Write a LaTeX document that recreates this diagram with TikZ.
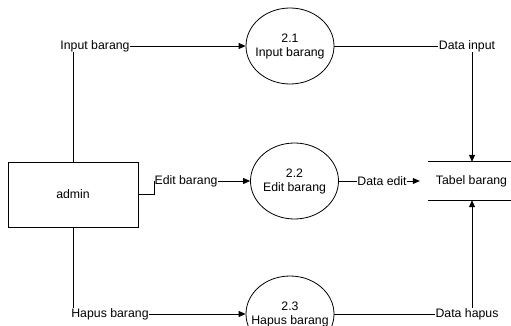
\documentclass[tikz,border=0pt]{standalone}
\usepackage{fontspec}
\setmainfont{Liberation Sans}
\usetikzlibrary{arrows.meta,shapes.geometric,calc}
\newcommand{\zl}[1]{\makebox[0pt]{#1}}
\begin{document}
\begin{tikzpicture}[x=1pt,y=-1pt,
  every node/.style={font=\fontsize{12.3}{14}\selectfont},
  flow/.style={line width=0.8pt,draw=black},
  arr/.style={flow,-{Triangle[length=7pt,width=6pt]}},
  lbl/.style={inner sep=0.3pt,fill=white},
  proc/.style={ellipse,draw,line width=0.8pt,minimum width=88pt,minimum height=76pt,inner sep=0pt,align=center},
  entity/.style={rectangle,draw,line width=0.8pt,minimum width=130pt,minimum height=65pt},
  store/.style={rectangle,minimum width=83pt,minimum height=38pt,inner sep=0pt}
]
\useasboundingbox (0,0) rectangle (511,326);
\clip (0,0) rectangle (511,326);
\fill[white] (0,0) rectangle (511,326);

\node[entity] (admin) at (73,194.5) {admin};
\node[proc] (p1) at (290,46) {\zl{2.1}\\\zl{Input barang}};
\node[proc] (p2) at (294.5,181) {\zl{2.2}\\\zl{Edit barang}};
\node[proc] (p3) at (290,314) {\zl{2.3}\\\zl{Hapus barang}};
\node[store] (st) at (469.5,181) {\hspace*{4pt}Tabel barang};
\coordinate (sx) at (472,181);
\draw[flow] (st.north west) -- (st.north east);
\draw[flow] (st.south west) -- (st.south east);

\node[lbl] (lin) at (95,46) {Input barang};
\node[lbl] (led) at (186,181) {Edit barang};
\node[lbl] (lha) at (110,314) {Hapus barang};
\node[lbl] (ldin) at (467,46) {Data input};
\node[lbl] (lded) at (382,181) {Data edit};
\node[lbl] (ldha) at (467,314) {Data hapus};

% admin -> input barang -> 2.1
\draw[flow] (admin.north) -- (admin.north |- lin.south);
\draw[arr] (lin.east) -- (p1.west);
\draw[flow] (p1.east) -- (ldin.west);
\draw[arr] (ldin.south -| sx) -- (st.north -| sx);

% admin -> edit barang -> 2.2
\draw[flow] (admin.east) -- ++(16,0) |- (led.west);
\draw[arr] (led.east) -- (p2.west);
\draw[flow] (p2.east) -- (lded.west);
\draw[arr,shorten >=8pt] (lded.east) -- (st.west);

% admin -> hapus barang -> 2.3
\draw[flow] (admin.south) -- (admin.south |- lha.north);
\draw[arr] (lha.east) -- (p3.west);
\draw[flow] (p3.east) -- (ldha.west);
\draw[arr] (ldha.north -| sx) -- (st.south -| sx);
\end{tikzpicture}
\end{document}
